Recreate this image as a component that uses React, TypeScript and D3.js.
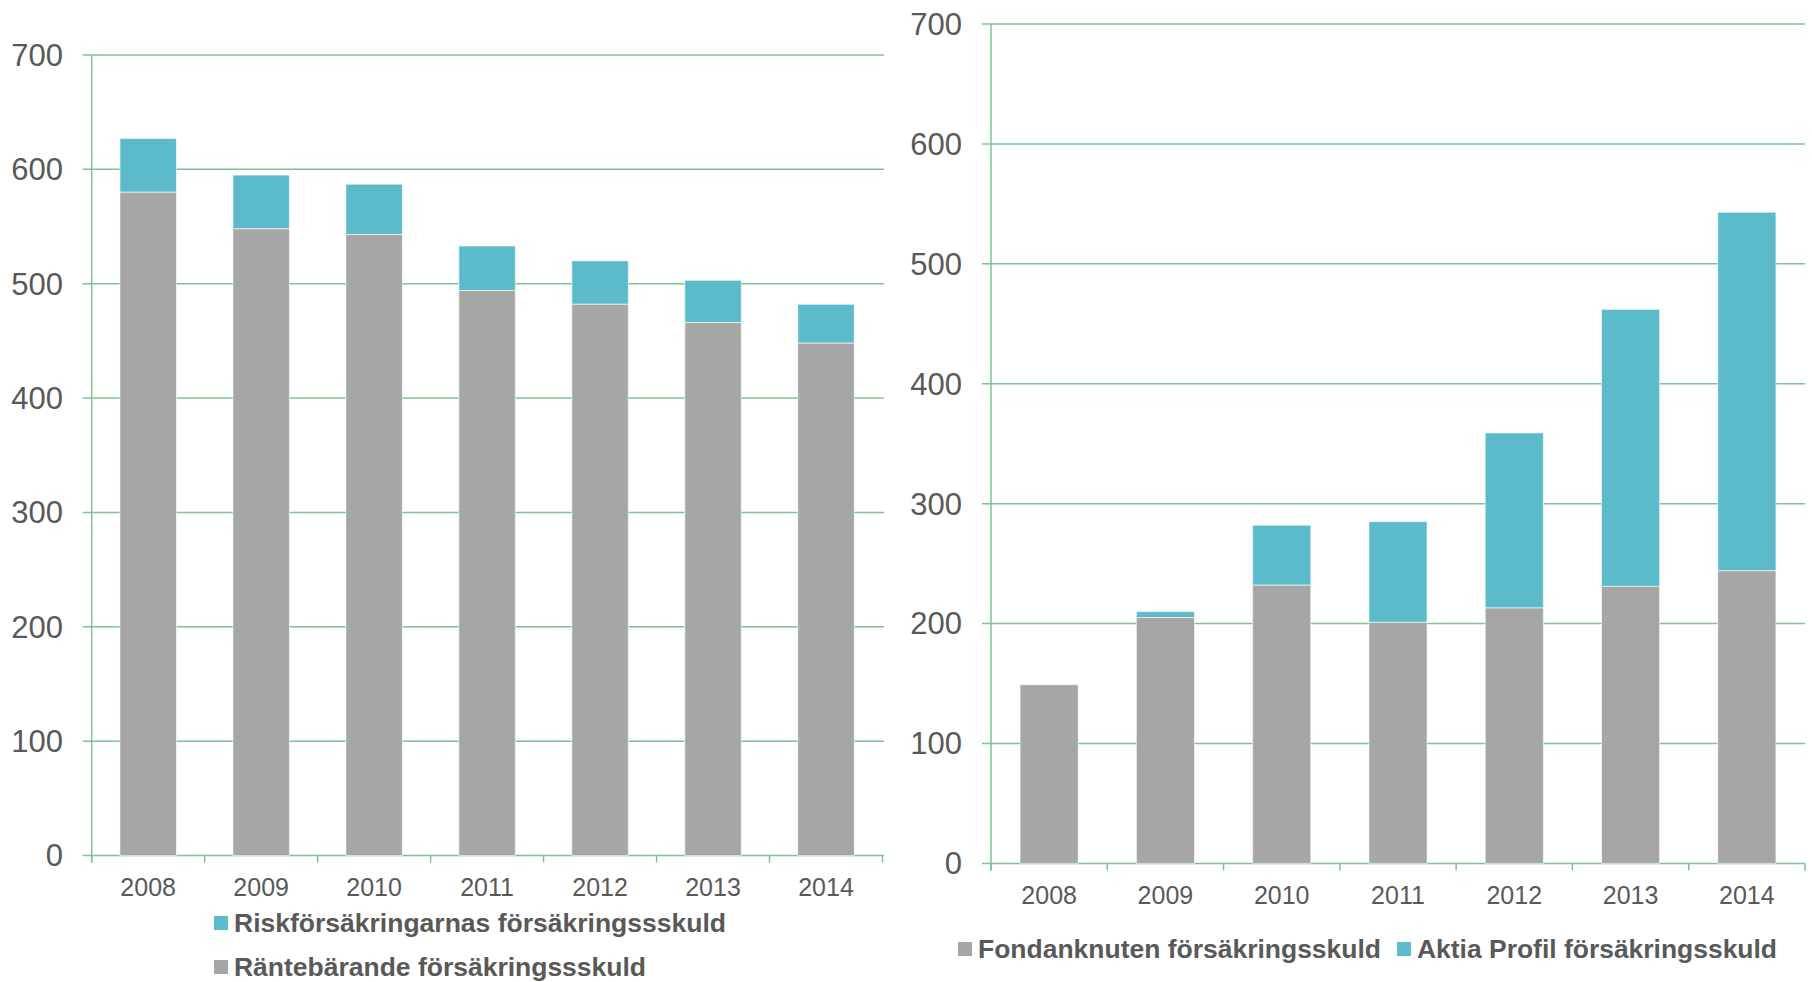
import React from "react";
import * as d3 from "d3";

const years = ["2008", "2009", "2010", "2011", "2012", "2013", "2014"];
const yTicks = [0, 100, 200, 300, 400, 500, 600, 700];

// Left chart
const rantebarande = [580, 548, 543, 494, 482, 466, 448];
const riskTotal = [627, 595, 587, 533, 520, 503, 482];
// Right chart
const fondanknuten = [149, 205, 232, 201, 213, 231, 244];
const aktiaTotal = [149, 210, 282, 285, 359, 462, 543];

const GRAY = "#A6A6A6";
const TEAL = "#5BBBCA";
const GRID = "#7DC492";
const TEXT = "#595959";
const FONT = "'Liberation Sans', Arial, sans-serif";

type PanelProps = {
  x0: number;
  x1: number;
  yBottom: number;
  yTop: number;
  yLabelX: number;
  gridRight: number;
  bottomVals: number[];
  totals: number[];
};

function Panel({ x0, x1, yBottom, yTop, yLabelX, gridRight, bottomVals, totals }: PanelProps) {
  const x = d3.scaleBand<string>().domain(years).range([x0, x1]).paddingInner(0.5).paddingOuter(0.25);
  const y = d3.scaleLinear().domain([0, 700]).range([yBottom, yTop]);
  const step = x.step();
  const bounds = d3.range(years.length + 1).map((i) => x0 + i * step);
  return (
    <g>
      {yTicks.map((t) => (
        <g key={t}>
          <line x1={x0 - 9} x2={gridRight} y1={y(t)} y2={y(t)} stroke={GRID} strokeWidth={1.5} />
          <text x={yLabelX} y={y(t)} dy="0.35em" textAnchor="end" fontSize={31} fill={TEXT} fontFamily={FONT}>
            {t}
          </text>
        </g>
      ))}
      <line x1={x0} x2={x0} y1={y(700)} y2={yBottom + 7} stroke={GRID} strokeWidth={1.5} />
      {bounds.map((b, i) => (
        <line key={i} x1={b} x2={b} y1={yBottom} y2={yBottom + 7} stroke={GRID} strokeWidth={1.5} />
      ))}
      {years.map((yr, i) => {
        const bx = x(yr)!;
        const bw = x.bandwidth();
        return (
          <g key={yr}>
            {totals[i] > bottomVals[i] && (
              <rect
                x={bx}
                y={y(totals[i])}
                width={bw}
                height={y(bottomVals[i]) - y(totals[i])}
                fill={TEAL}
                stroke="#ffffff"
                strokeOpacity={0.6}
                strokeWidth={1}
              />
            )}
            <rect
              x={bx}
              y={y(bottomVals[i])}
              width={bw}
              height={yBottom - y(bottomVals[i])}
              fill={GRAY}
              stroke="#ffffff"
              strokeOpacity={0.6}
              strokeWidth={1}
            />
            <text
              x={bx + bw / 2}
              y={yBottom + 32}
              dy="0.35em"
              textAnchor="middle"
              fontSize={25}
              fill={TEXT}
              fontFamily={FONT}
            >
              {yr}
            </text>
          </g>
        );
      })}
    </g>
  );
}

function LegendItem({ x, y, color, label, w }: { x: number; y: number; color: string; label: string; w: number }) {
  return (
    <g>
      <rect x={x} y={y - 7} width={14} height={14} fill={color} />
      <text
        x={x + 20}
        y={y}
        dy="0.35em"
        fontSize={25}
        fontWeight="bold"
        fill={TEXT}
        fontFamily={FONT}
        textLength={w}
        lengthAdjust="spacingAndGlyphs"
      >
        {label}
      </text>
    </g>
  );
}

export default function App() {
  return (
    <svg
      width={1812}
      height={982}
      style={{ position: "absolute", left: 0, top: 0, background: "#fff" }}
    >
      <Panel
        x0={91.7}
        x1={882.5}
        yBottom={855.5}
        yTop={55}
        yLabelX={63}
        gridRight={884}
        bottomVals={rantebarande}
        totals={riskTotal}
      />
      <Panel
        x0={991}
        x1={1805}
        yBottom={863.4}
        yTop={24}
        yLabelX={962}
        gridRight={1805}
        bottomVals={fondanknuten}
        totals={aktiaTotal}
      />
      <LegendItem x={214} y={923} color={TEAL} w={492} label="Riskförsäkringarnas försäkringssskuld" />
      <LegendItem x={214} y={967} color={GRAY} w={412} label="Räntebärande försäkringssskuld" />
      <LegendItem x={958} y={949} color={GRAY} w={403} label="Fondanknuten försäkringsskuld" />
      <LegendItem x={1397} y={949} color={TEAL} w={360} label="Aktia Profil försäkringsskuld" />
    </svg>
  );
}
